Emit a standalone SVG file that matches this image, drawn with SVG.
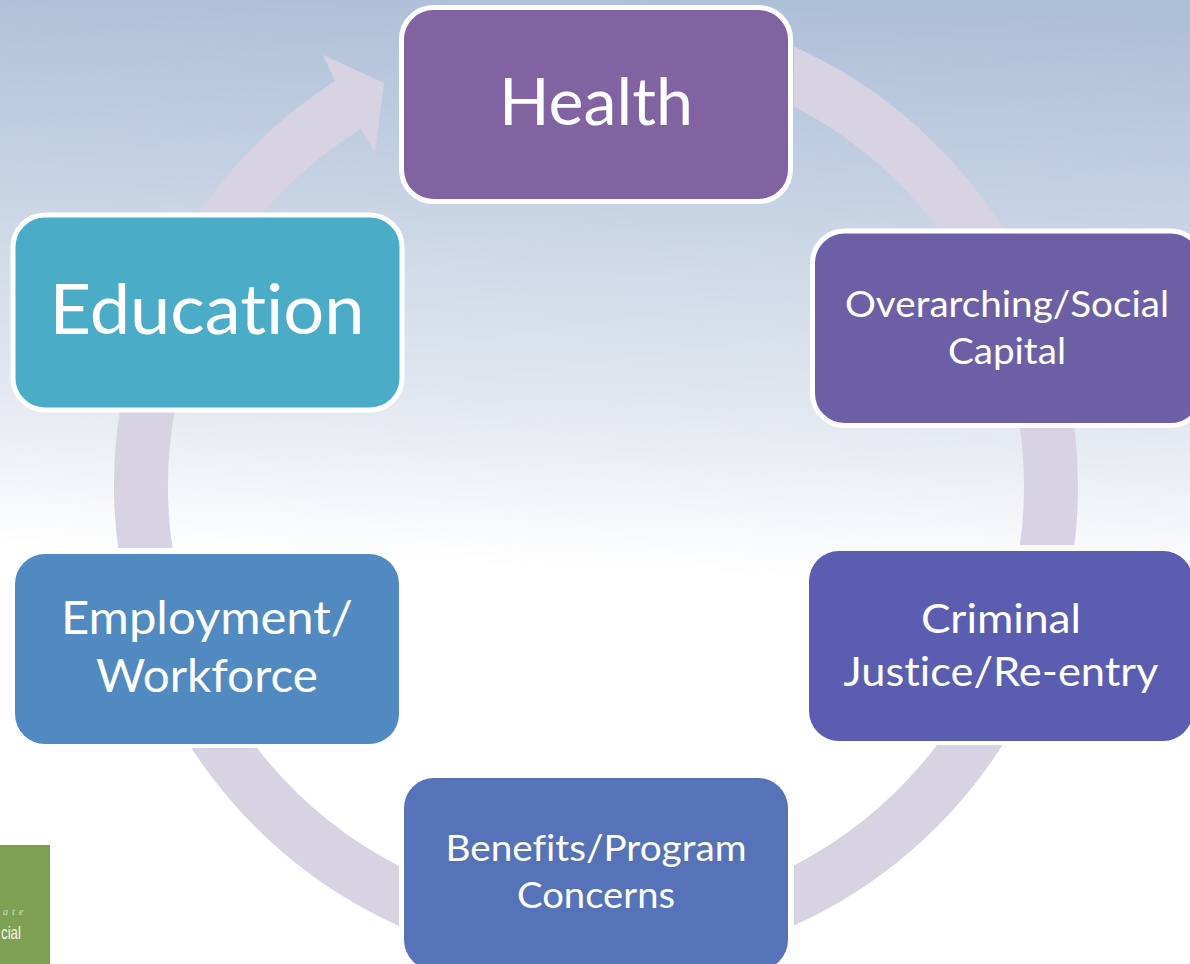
<svg xmlns="http://www.w3.org/2000/svg" width="1190" height="964" viewBox="0 0 1190 964">
<style>
.seg{fill:#d7d3e3}
.lbl{font-family:"Lato","Open Sans","DejaVu Sans",sans-serif;fill:#fff;text-anchor:middle;font-variant-ligatures:none}
.box{stroke:#fff;stroke-width:5}
.plain{stroke:none}
</style>
<defs>
<linearGradient id="bg" gradientUnits="userSpaceOnUse" x1="610" y1="0" x2="590" y2="570">
<stop offset="0" stop-color="#aebfd8"/>
<stop offset="0.35" stop-color="#c7d3e4"/>
<stop offset="0.7" stop-color="#e1e7f0"/>
<stop offset="1" stop-color="#ffffff"/>
</linearGradient>
</defs>
<rect width="1190" height="964" fill="url(#bg)"/>
<g id="logo">
<rect x="0" y="845" width="50" height="119" fill="#7ea052"/>
<text x="3" y="915" font-family="Liberation Serif,serif" font-style="italic" font-size="10" letter-spacing="4" fill="#d5e0c0">ate</text>
<text x="1" y="939" font-family="Liberation Sans,sans-serif" font-size="19" fill="#f2f5e8" textLength="20" lengthAdjust="spacingAndGlyphs">cial</text>
</g>
<g id="connectors">
<path class="seg" d="M794 46.5A482 482 0 0 1 1003 228H937.5A428 428 0 0 0 794 106.6Z"/>
<path class="seg" d="M1074.5 428A482 482 0 0 1 1074.4 545H1019.9A428 428 0 0 0 1020 428Z"/>
<path class="seg" d="M1002.5 745A482 482 0 0 1 794 925.5V865.4A428 428 0 0 0 937 745Z"/>
<path class="seg" d="M399 925.9A482 482 0 0 1 191.4 748H257A428 428 0 0 0 399 866Z"/>
<path class="seg" d="M118 548A482 482 0 0 1 119.7 412H174.4A428 428 0 0 0 172.5 548Z"/>
<path class="seg" d="M199.4 212A482 482 0 0 1 335 81L323 55L384 83L375 153L361 129A428 428 0 0 0 263.3 212Z"/>
</g>
<g id="node-health">
<rect class="box" x="401.5" y="7.5" width="389" height="194" rx="32" fill="#8263a1"/>
<text class="lbl" x="596" y="125" font-size="65" textLength="194" lengthAdjust="spacingAndGlyphs">Health</text>
</g>
<g id="node-overarching">
<rect class="box" x="812.5" y="231" width="390" height="194.5" rx="32" fill="#6d5fa6"/>
<text class="lbl" x="1007" y="317" font-size="36" textLength="324" lengthAdjust="spacingAndGlyphs">Overarching/Social</text>
<text class="lbl" x="1007" y="364" font-size="36" textLength="118" lengthAdjust="spacingAndGlyphs">Capital</text>
</g>
<g id="node-criminal">
<rect class="plain" x="809" y="551" width="384" height="190" rx="30" fill="#5b5eb0"/>
<text class="lbl" x="1001" y="633" font-size="41" textLength="160" lengthAdjust="spacingAndGlyphs">Criminal</text>
<text class="lbl" x="1001" y="686" font-size="41" textLength="315" lengthAdjust="spacingAndGlyphs">Justice/Re-entry</text>
</g>
<g id="node-benefits">
<rect class="plain" x="404" y="778" width="384" height="192" rx="30" fill="#5672b9"/>
<text class="lbl" x="596" y="861" font-size="36" textLength="301" lengthAdjust="spacingAndGlyphs">Benefits/Program</text>
<text class="lbl" x="596" y="908" font-size="36" textLength="158" lengthAdjust="spacingAndGlyphs">Concerns</text>
</g>
<g id="node-employment">
<rect class="plain" x="15" y="554" width="384" height="190" rx="30" fill="#508ac0"/>
<text class="lbl" x="207" y="634" font-size="46" textLength="292" lengthAdjust="spacingAndGlyphs">Employment/</text>
<text class="lbl" x="207" y="692" font-size="46" textLength="222" lengthAdjust="spacingAndGlyphs">Workforce</text>
</g>
<g id="node-education">
<rect class="box" x="13" y="215" width="389" height="195" rx="32" fill="#4aacc6"/>
<text class="lbl" x="207" y="334" font-size="70" textLength="315" lengthAdjust="spacingAndGlyphs">Education</text>
</g>
</svg>
